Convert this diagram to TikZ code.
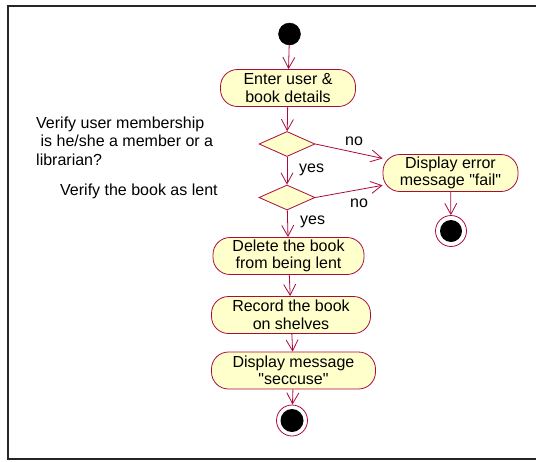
\documentclass[tikz,border=0pt]{standalone}
\usepackage{fontspec}
\setmainfont{Liberation Sans}[Ligatures=TeXOff]
\usetikzlibrary{shapes.geometric,arrows.meta}

\definecolor{actfill}{RGB}{255,255,204}
\definecolor{actline}{RGB}{170,10,60}

\tikzset{
  activity/.style={draw=actline, fill=actfill, line width=0.8pt,
    rectangle, rounded corners=17pt, minimum height=37pt,
    inner sep=0pt, align=center,
    font=\fontsize{16}{17.5}\selectfont},
  decision/.style={draw=actline, fill=actfill, line width=0.8pt,
    diamond, minimum width=56pt, minimum height=25pt, inner sep=0pt},
  startdot/.style={circle, fill=black, draw=black, minimum size=22pt, inner sep=0pt},
  enddot/.style={circle, draw=actline, fill=white, line width=0.8pt,
    minimum size=31pt, inner sep=0pt},
  flow/.style={draw=actline, line width=0.8pt,
    -{Straight Barb[length=11pt,width=12pt,line width=0.8pt]}},
  guard/.style={inner sep=0pt, anchor=base west, font=\fontsize{16}{17.5}\selectfont},
  note/.style={inner sep=0pt, align=left, font=\fontsize{16}{18.5}\selectfont}
}

\begin{document}
\begin{tikzpicture}[x=1pt, y=-1pt]
  \useasboundingbox (0,0) rectangle (536,461);

  % outer frame, open on the right
  \draw[line width=2pt, black!85] (560,6) -- (7.5,6) -- (7.5,459) -- (560,459);

  % control flow nodes
  \node[startdot] (start) at (289.5,34) {};
  \node[activity, minimum width=135pt] (enter) at (288,88) {Enter user \&\\book details};
  \node[decision] (d1) at (287,144) {};
  \node[decision] (d2) at (287,197.5) {};
  \node[activity, minimum width=151pt] (del) at (288.5,256) {Delete the book\\from being lent};
  \node[activity, minimum width=159pt] (rec) at (291,315) {Record the book\\on shelves};
  \node[activity, minimum width=164pt] (msg) at (293.5,370.5) {Display message\\"seccuse"};
  \node[enddot] (end1) at (292,420.5) {};
  \fill[black] (end1.center) circle (11.5pt);

  \node[activity, minimum width=135pt] (err) at (450.5,173) {Display error\\message "fail"};
  \node[enddot] (end2) at (451,231) {};
  \fill[black] (end2.center) circle (11pt);

  % transitions
  \draw[flow] (start) -- (enter);
  \draw[flow] (enter) -- (d1);
  \draw[flow] (d1) -- (d2);
  \draw[flow] (d1.east) -- (err);
  \draw[flow] (d2.east) -- (err);
  \draw[flow] (d2) -- (del);
  \draw[flow] (err) -- (end2);
  \draw[flow] (del) -- (rec);
  \draw[flow] (rec) -- (msg);
  \draw[flow] (msg) -- (end1);

  % guards
  \node[guard] (g1) at (345,145) {no};
  \node[guard] (g2) at (299,172) {yes};
  \node[guard] (g3) at (350,207) {no};
  \node[guard] (g4) at (300,224) {yes};

  % annotations
  \node[note, anchor=north west] (n1) at (36,116.5)
    {Verify user membership\\\mbox{}\ is he/she a member or a\\librarian?};
  \node[guard] (n2) at (60,195) {Verify the book as lent};
\end{tikzpicture}
\end{document}
